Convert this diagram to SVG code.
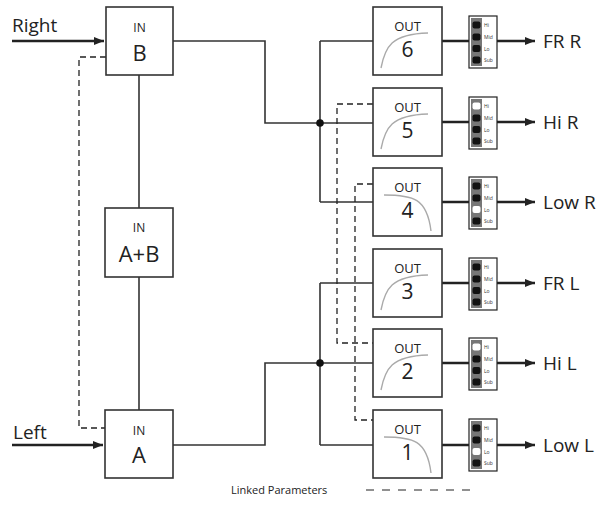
<svg xmlns="http://www.w3.org/2000/svg" width="603" height="524" viewBox="0 0 603 524">
<defs>
<style>
text{font-family:"Open Sans","Noto Sans","DejaVu Sans",sans-serif;fill:#222}
.box{fill:#fff;stroke:#333;stroke-width:1.6}
.wire{fill:none;stroke:#333;stroke-width:1.6}
.thick{fill:none;stroke:#222;stroke-width:2.4}
.dash{fill:none;stroke:#222;stroke-width:1.3;stroke-dasharray:6 4}
.curve{fill:none;stroke:#aaa;stroke-width:1.4}
.small{font-size:12px;text-anchor:middle}
.big{font-size:22px;text-anchor:middle}
.num{font-size:21px;text-anchor:middle}
.lbl{font-size:19px}
.sw{fill:#fff;stroke:#222;stroke-width:1.2}
.strip{fill:#777}
.led{fill:#111}
.on{fill:#fff}
.tiny{font-size:5px;fill:#333}
</style>
<marker id="ah" markerUnits="userSpaceOnUse" markerWidth="10" markerHeight="8" refX="10" refY="4" orient="auto">
<path d="M0,0 L10,4 L0,8 Z" fill="#222"/>
</marker>
<g id="switch">
<rect class="sw" x="0" y="0" width="28" height="52"/>
<rect class="strip" x="2" y="2" width="11" height="48"/>
<text class="tiny" x="15" y="11">Hi</text>
<text class="tiny" x="15" y="23">Mid</text>
<text class="tiny" x="15" y="34.5">Lo</text>
<text class="tiny" x="15" y="46">Sub</text>
</g>
<path id="hp" class="curve" d="M8,61 C12,40 18,27 55,26"/>
<path id="lp" class="curve" d="M11,27 C40,27 54,30 58,63"/>
</defs>

<g id="connectors">
<line class="thick" x1="12" y1="41" x2="104" y2="41" marker-end="url(#ah)"/>
<line class="thick" x1="12" y1="445" x2="103" y2="445" marker-end="url(#ah)"/>
<line class="wire" x1="139" y1="75" x2="139" y2="208"/>
<line class="wire" x1="139" y1="277" x2="139" y2="410"/>
<path class="wire" d="M173,41 H265 V123 H320"/>
<path class="wire" d="M320,41 V202"/>
<path class="wire" d="M320,41 H373 M320,123 H373 M320,202 H373"/>
<path class="wire" d="M173,445 H265 V363 H320"/>
<path class="wire" d="M320,283 V445"/>
<path class="wire" d="M320,283 H373 M320,363 H373 M320,445 H373"/>
<circle cx="320" cy="123" r="3.8" fill="#111"/>
<circle cx="320" cy="363" r="3.8" fill="#111"/>
<path class="dash" d="M106,57 H79 V428 H105"/>
<path class="dash" d="M373,104 H337 V343 H373"/>
<path class="dash" d="M373,184 H355 V420 H373"/>
<path class="thick" d="M442,41 H469 M442,122 H469 M442,202 H469 M442,283 H469 M442,363 H469 M442,445 H469"/>
<line class="thick" x1="497" y1="41" x2="535" y2="41" marker-end="url(#ah)"/>
<line class="thick" x1="497" y1="122" x2="535" y2="122" marker-end="url(#ah)"/>
<line class="thick" x1="497" y1="202" x2="535" y2="202" marker-end="url(#ah)"/>
<line class="thick" x1="497" y1="283" x2="535" y2="283" marker-end="url(#ah)"/>
<line class="thick" x1="497" y1="363" x2="535" y2="363" marker-end="url(#ah)"/>
<line class="thick" x1="497" y1="445" x2="535" y2="445" marker-end="url(#ah)"/>
</g>

<text class="lbl" x="12" y="32">Right</text>
<text class="lbl" x="13" y="439">Left</text>

<g id="inB">
<rect class="box" x="106" y="7" width="67" height="68"/>
<text class="small" x="139.5" y="32">IN</text>
<text class="big" x="139.5" y="61">B</text>
</g>
<g id="inAB">
<rect class="box" x="105" y="208" width="68" height="69"/>
<text class="small" x="139" y="232">IN</text>
<text class="big" x="139" y="262">A+B</text>
</g>
<g id="inA">
<rect class="box" x="105" y="410" width="68" height="68"/>
<text class="small" x="139" y="435">IN</text>
<text class="big" x="139" y="463">A</text>
</g>

<g id="out6" transform="translate(373,7)">
<rect class="box" width="69" height="68"/>
<use href="#hp"/>
<text class="small" x="34.5" y="24" style="font-size:13px">OUT</text>
<text class="num" x="34.5" y="50">6</text>
</g>
<g id="out5" transform="translate(373,88)">
<rect class="box" width="69" height="68"/>
<use href="#hp"/>
<text class="small" x="34.5" y="24" style="font-size:13px">OUT</text>
<text class="num" x="34.5" y="50">5</text>
</g>
<g id="out4" transform="translate(373,168)">
<rect class="box" width="69" height="68"/>
<use href="#lp"/>
<text class="small" x="34.5" y="24" style="font-size:13px">OUT</text>
<text class="num" x="34.5" y="50">4</text>
</g>
<g id="out3" transform="translate(373,249)">
<rect class="box" width="69" height="68"/>
<use href="#hp"/>
<text class="small" x="34.5" y="24" style="font-size:13px">OUT</text>
<text class="num" x="34.5" y="50">3</text>
</g>
<g id="out2" transform="translate(373,329)">
<rect class="box" width="69" height="68"/>
<use href="#hp"/>
<text class="small" x="34.5" y="24" style="font-size:13px">OUT</text>
<text class="num" x="34.5" y="50">2</text>
</g>
<g id="out1" transform="translate(373,410)">
<rect class="box" width="69" height="68"/>
<use href="#lp"/>
<text class="small" x="34.5" y="24" style="font-size:13px">OUT</text>
<text class="num" x="34.5" y="50">1</text>
</g>

<g id="sw6" transform="translate(469,16)">
<use href="#switch"/>
<rect class="led" x="3.5" y="5.5" width="8" height="7" rx="2"/>
<rect class="led" x="3.5" y="17.5" width="8" height="7" rx="2"/>
<rect class="led" x="3.5" y="29" width="8" height="7" rx="2"/>
<rect class="led" x="3.5" y="40.5" width="8" height="7" rx="2"/>
</g>
<g id="sw5" transform="translate(469,97)">
<use href="#switch"/>
<rect class="on" x="3.5" y="5.5" width="8" height="7" rx="2"/>
<rect class="led" x="3.5" y="17.5" width="8" height="7" rx="2"/>
<rect class="led" x="3.5" y="29" width="8" height="7" rx="2"/>
<rect class="led" x="3.5" y="40.5" width="8" height="7" rx="2"/>
</g>
<g id="sw4" transform="translate(469,177)">
<use href="#switch"/>
<rect class="led" x="3.5" y="5.5" width="8" height="7" rx="2"/>
<rect class="led" x="3.5" y="17.5" width="8" height="7" rx="2"/>
<rect class="on" x="3.5" y="29" width="8" height="7" rx="2"/>
<rect class="led" x="3.5" y="40.5" width="8" height="7" rx="2"/>
</g>
<g id="sw3" transform="translate(469,258)">
<use href="#switch"/>
<rect class="led" x="3.5" y="5.5" width="8" height="7" rx="2"/>
<rect class="led" x="3.5" y="17.5" width="8" height="7" rx="2"/>
<rect class="led" x="3.5" y="29" width="8" height="7" rx="2"/>
<rect class="led" x="3.5" y="40.5" width="8" height="7" rx="2"/>
</g>
<g id="sw2" transform="translate(469,338)">
<use href="#switch"/>
<rect class="on" x="3.5" y="5.5" width="8" height="7" rx="2"/>
<rect class="led" x="3.5" y="17.5" width="8" height="7" rx="2"/>
<rect class="led" x="3.5" y="29" width="8" height="7" rx="2"/>
<rect class="led" x="3.5" y="40.5" width="8" height="7" rx="2"/>
</g>
<g id="sw1" transform="translate(469,419)">
<use href="#switch"/>
<rect class="led" x="3.5" y="5.5" width="8" height="7" rx="2"/>
<rect class="led" x="3.5" y="17.5" width="8" height="7" rx="2"/>
<rect class="on" x="3.5" y="29" width="8" height="7" rx="2"/>
<rect class="led" x="3.5" y="40.5" width="8" height="7" rx="2"/>
</g>

<g id="outputs">
<text class="lbl" x="543" y="48">FR R</text>
<text class="lbl" x="543" y="129">Hi R</text>
<text class="lbl" x="543" y="209">Low R</text>
<text class="lbl" x="543" y="290">FR L</text>
<text class="lbl" x="543" y="370">Hi L</text>
<text class="lbl" x="543" y="452">Low L</text>
</g>

<g id="legend">
<text x="231" y="494" style="font-size:11px">Linked Parameters</text>
<line x1="366" y1="490" x2="472" y2="490" style="fill:none;stroke:#222;stroke-width:1.2;stroke-dasharray:8 8"/>
</g>
</svg>
